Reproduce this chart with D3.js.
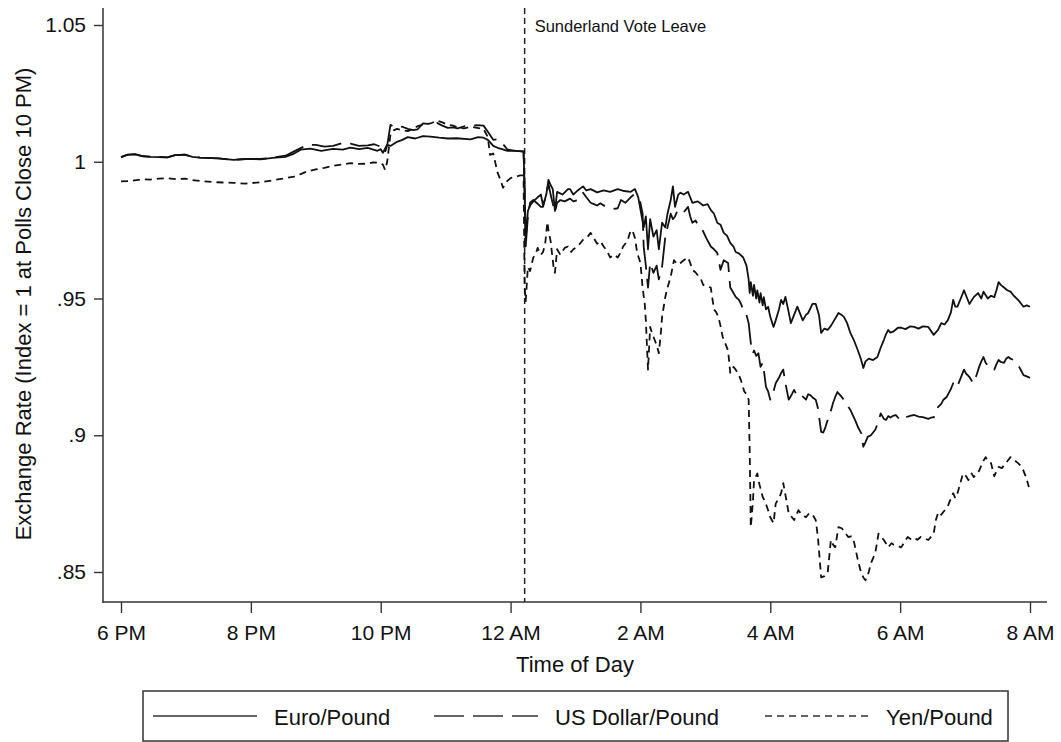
<!DOCTYPE html>
<html>
<head>
<meta charset="utf-8">
<script src="https://cdn.jsdelivr.net/npm/d3@7"></script>
<style>
  body { margin: 0; background: #fff; }
  svg { display: block; font-family: "Liberation Sans", Arial, sans-serif; }
</style>
</head>
<body>
<div id="chart"></div>
<script>
// minutes after 6 PM, index value (1 = polls close 10 PM)
const euroPound = [
  [0,1.0017],[6,1.0026],[13,1.0028],[20,1.0020],[27,1.0018],[43,1.0016],[50,1.0024],[59,1.0026],[66,1.0018],
  [73,1.0015],[90,1.0012],[104,1.0007],[115,1.0010],[129,1.0009],[140,1.0014],[152,1.0018],[160,1.0030],
  [166,1.0044],[175,1.0048],[185,1.0040],[196,1.0047],[205,1.0044],[212,1.0052],[220,1.0046],[228,1.0051],
  [237,1.0040],[240,1.0046],[242,1.0033],[246,1.0062],[249,1.0058],[255,1.0073],[260,1.0080],[265,1.0090],
  [272,1.0085],[279,1.0094],[286,1.0092],[294,1.0088],[302,1.0085],[310,1.0086],[323,1.0082],[330,1.0090],
  [335,1.0088],[339,1.0080],[341,1.0072],[344,1.0058],[348,1.0051],[352,1.0046],[357,1.0040],[365,1.0040],
  [372,1.0038],[373,0.9900],[374,0.9715],[376,0.9820],[378,0.9840],[381,0.9855],[385,0.9870],[388,0.9880],
  [390,0.9840],[393,0.9880],[395,0.9934],[397,0.9915],[399,0.9900],[401,0.9820],[403,0.9890],[408,0.9880],
  [413,0.9900],[415,0.9900],[418,0.9880],[422,0.9895],[427,0.9910],[430,0.9895],[434,0.9900],[440,0.9888],
  [446,0.9895],[452,0.9890],[459,0.9900],[465,0.9893],[471,0.9890],[475,0.9900],[478,0.9870],[483,0.9760],
  [485,0.9800],[487,0.9680],[489,0.9790],[492,0.9726],[495,0.9750],[497,0.9680],[500,0.9777],[503,0.9760],
  [505,0.9810],[508,0.9860],[510,0.9910],[512,0.9835],[515,0.9880],[517,0.9887],[520,0.9880],[524,0.9890],
  [528,0.9850],[533,0.9855],[538,0.9840],[542,0.9845],[545,0.9824],[548,0.9810],[551,0.9777],[554,0.9770],
  [557,0.9740],[560,0.9730],[563,0.9703],[566,0.9690],[568,0.9670],[571,0.9665],[575,0.9650],[578,0.9620],
  [580,0.9570],[581,0.9520],[582,0.9560],[584,0.9510],[585,0.9550],[587,0.9500],[588,0.9530],[590,0.9485],
  [591,0.9520],[593,0.9475],[594,0.9505],[596,0.9460],[598,0.9470],[600,0.9433],[603,0.9396],[605,0.9420],
  [608,0.9460],[610,0.9495],[612,0.9480],[614,0.9506],[617,0.9450],[619,0.9410],[622,0.9440],[625,0.9470],
  [628,0.9440],[630,0.9420],[633,0.9440],[635,0.9447],[639,0.9480],[642,0.9480],[645,0.9440],[647,0.9374],
  [650,0.9390],[653,0.9385],[656,0.9400],[659,0.9420],[663,0.9447],[666,0.9440],[668,0.9433],[671,0.9410],
  [674,0.9374],[677,0.9350],[681,0.9310],[684,0.9275],[686,0.9246],[688,0.9270],[691,0.9280],[695,0.9275],
  [699,0.9286],[702,0.9320],[705,0.9349],[707,0.9370],[709,0.9385],[711,0.9375],[714,0.9380],[718,0.9393],
  [721,0.9393],[725,0.9388],[729,0.9398],[733,0.9396],[737,0.9390],[741,0.9398],[746,0.9396],[751,0.9367],
  [755,0.9385],[758,0.9410],[761,0.9405],[764,0.9420],[767,0.9450],[769,0.9495],[771,0.9470],[773,0.9470],
  [776,0.9500],[779,0.9530],[782,0.9500],[784,0.9480],[788,0.9505],[792,0.9520],[795,0.9500],[797,0.9525],
  [801,0.9500],[804,0.9510],[807,0.9505],[809,0.9530],[811,0.9560],[813,0.9550],[816,0.9540],[819,0.9530],
  [822,0.9525],[825,0.9510],[829,0.9495],[832,0.9480],[834,0.9470],[837,0.9475],[840,0.9470]
];

const usDollarPound = [
  [0,1.0017],[6,1.0025],[13,1.0027],[20,1.0021],[27,1.0019],[43,1.0016],[50,1.0024],[59,1.0026],[66,1.0018],
  [73,1.0015],[90,1.0012],[104,1.0007],[115,1.0010],[129,1.0010],[140,1.0015],[152,1.0022],[160,1.0038],
  [166,1.0050],[173,1.0062],[180,1.0062],[188,1.0055],[196,1.0058],[204,1.0068],[212,1.0066],[220,1.0058],
  [228,1.0060],[234,1.0064],[240,1.0055],[242,1.0038],[244,1.0035],[246,1.0060],[249,1.0135],[252,1.0128],
  [255,1.0125],[260,1.0128],[265,1.0120],[270,1.0116],[274,1.0118],[279,1.0140],[285,1.0138],[292,1.0142],
  [297,1.0132],[302,1.0124],[307,1.0126],[311,1.0122],[318,1.0130],[323,1.0130],[329,1.0134],[335,1.0132],
  [339,1.0110],[344,1.0080],[348,1.0082],[351,1.0070],[354,1.0060],[357,1.0045],[365,1.0040],[372,1.0037],
  [373,0.9880],[374,0.9690],[376,0.9800],[378,0.9850],[381,0.9860],[384,0.9850],[388,0.9835],[390,0.9835],
  [393,0.9880],[395,0.9920],[397,0.9880],[400,0.9830],[401,0.9815],[403,0.9850],[406,0.9860],[410,0.9855],
  [415,0.9865],[418,0.9855],[422,0.9860],[425,0.9875],[427,0.9887],[430,0.9870],[434,0.9850],[437,0.9845],
  [440,0.9840],[443,0.9848],[446,0.9840],[449,0.9838],[452,0.9835],[456,0.9828],[459,0.9830],[462,0.9860],
  [466,0.9850],[471,0.9870],[474,0.9880],[477,0.9870],[480,0.9850],[482,0.9810],[483,0.9690],[485,0.9620],
  [487,0.9540],[489,0.9630],[492,0.9594],[495,0.9620],[497,0.9570],[500,0.9616],[503,0.9726],[505,0.9760],
  [508,0.9810],[510,0.9790],[512,0.9800],[514,0.9820],[517,0.9810],[520,0.9815],[524,0.9835],[526,0.9800],
  [528,0.9777],[531,0.9785],[533,0.9770],[536,0.9760],[538,0.9745],[541,0.9720],[545,0.9690],[548,0.9680],
  [551,0.9667],[554,0.9605],[557,0.9640],[561,0.9630],[563,0.9540],[566,0.9520],[568,0.9506],[571,0.9495],
  [573,0.9480],[576,0.9447],[578,0.9440],[580,0.9410],[582,0.9337],[584,0.9300],[585,0.9310],[587,0.9290],
  [589,0.9300],[591,0.9250],[593,0.9265],[594,0.9240],[596,0.9177],[598,0.9160],[600,0.9130],[603,0.9160],
  [605,0.9190],[608,0.9210],[610,0.9228],[612,0.9240],[614,0.9190],[617,0.9130],[620,0.9150],[622,0.9166],
  [624,0.9150],[626,0.9140],[629,0.9145],[633,0.9130],[635,0.9150],[637,0.9147],[640,0.9135],[642,0.9130],
  [644,0.9100],[647,0.9012],[649,0.9010],[651,0.9030],[653,0.9056],[656,0.9090],[658,0.9118],[660,0.9140],
  [662,0.9158],[665,0.9145],[668,0.9130],[671,0.9110],[674,0.9093],[677,0.9067],[679,0.9050],[681,0.9030],
  [684,0.9008],[686,0.8958],[688,0.8975],[690,0.8994],[693,0.9000],[695,0.9010],[697,0.9020],[700,0.9050],
  [702,0.9080],[705,0.9060],[707,0.9056],[709,0.9070],[711,0.9065],[714,0.9072],[716,0.9074],[719,0.9060],
  [721,0.9056],[723,0.9065],[727,0.9068],[730,0.9072],[733,0.9074],[737,0.9068],[741,0.9066],[746,0.9060],
  [749,0.9065],[751,0.9065],[753,0.9080],[755,0.9103],[758,0.9115],[760,0.9130],[763,0.9140],[765,0.9155],
  [767,0.9170],[769,0.9190],[771,0.9175],[773,0.9180],[776,0.9210],[779,0.9240],[781,0.9225],[784,0.9213],
  [786,0.9200],[788,0.9190],[791,0.9225],[793,0.9250],[795,0.9270],[797,0.9286],[799,0.9265],[802,0.9250],
  [804,0.9240],[807,0.9240],[809,0.9260],[811,0.9275],[813,0.9268],[816,0.9265],[818,0.9280],[820,0.9286],
  [822,0.9280],[825,0.9275],[828,0.9262],[830,0.9250],[832,0.9235],[834,0.9220],[837,0.9215],[840,0.9210]
];

const yenPound = [
  [0,0.9928],[10,0.9930],[20,0.9936],[27,0.9935],[35,0.9938],[43,0.9940],[51,0.9936],[59,0.9938],[66,0.9933],
  [73,0.9930],[88,0.9925],[104,0.9923],[115,0.9920],[129,0.9925],[140,0.9932],[152,0.9940],[160,0.9946],
  [166,0.9955],[172,0.9965],[180,0.9972],[188,0.9978],[196,0.9985],[204,0.9990],[212,0.9995],[220,0.9992],
  [228,0.9993],[233,0.9998],[237,0.9997],[240,0.9994],[242,0.9990],[244,0.9970],[246,1.0000],[249,1.0100],
  [252,1.0115],[255,1.0120],[260,1.0116],[265,1.0112],[270,1.0120],[274,1.0130],[280,1.0136],[286,1.0140],
  [292,1.0150],[297,1.0144],[302,1.0135],[307,1.0132],[311,1.0125],[317,1.0122],[323,1.0128],[329,1.0124],
  [335,1.0120],[339,1.0090],[341,1.0025],[344,1.0030],[348,0.9960],[351,0.9930],[353,0.9905],[355,0.9920],
  [357,0.9930],[360,0.9940],[364,0.9945],[369,0.9950],[372,0.9950],[373,0.9540],[374,0.9490],[376,0.9615],
  [378,0.9600],[381,0.9650],[383,0.9660],[385,0.9685],[388,0.9660],[390,0.9670],[392,0.9700],[394,0.9780],
  [395,0.9750],[397,0.9710],[399,0.9640],[400,0.9605],[401,0.9594],[403,0.9680],[406,0.9660],[410,0.9685],
  [413,0.9690],[416,0.9670],[418,0.9680],[422,0.9690],[427,0.9715],[431,0.9725],[434,0.9740],[437,0.9720],
  [440,0.9700],[443,0.9710],[446,0.9690],[449,0.9675],[452,0.9650],[456,0.9660],[459,0.9650],[462,0.9670],
  [464,0.9690],[468,0.9710],[471,0.9750],[473,0.9745],[475,0.9720],[477,0.9667],[480,0.9630],[482,0.9540],
  [484,0.9480],[485,0.9420],[487,0.9240],[489,0.9396],[491,0.9370],[492,0.9360],[495,0.9330],[497,0.9300],
  [499,0.9380],[500,0.9433],[503,0.9506],[505,0.9540],[508,0.9580],[510,0.9620],[511,0.9640],[514,0.9625],
  [517,0.9630],[520,0.9640],[524,0.9650],[526,0.9630],[528,0.9605],[531,0.9595],[534,0.9580],[536,0.9570],
  [538,0.9550],[541,0.9545],[545,0.9540],[548,0.9460],[550,0.9450],[552,0.9433],[554,0.9400],[556,0.9360],
  [558,0.9340],[561,0.9310],[563,0.9228],[566,0.9250],[568,0.9240],[571,0.9220],[573,0.9200],[576,0.9160],
  [578,0.9150],[580,0.9130],[581,0.8934],[582,0.8664],[584,0.8760],[585,0.8836],[588,0.8860],[590,0.8820],
  [593,0.8774],[595,0.8760],[598,0.8726],[600,0.8700],[603,0.8679],[605,0.8750],[608,0.8770],[610,0.8788],
  [612,0.8825],[615,0.8760],[617,0.8715],[620,0.8700],[622,0.8690],[626,0.8726],[629,0.8710],[633,0.8700],
  [636,0.8715],[639,0.8710],[642,0.8690],[644,0.8628],[647,0.8480],[650,0.8485],[653,0.8496],[656,0.8617],
  [658,0.8600],[660,0.8590],[663,0.8664],[666,0.8660],[668,0.8650],[672,0.8628],[675,0.8630],[677,0.8617],
  [681,0.8543],[684,0.8496],[686,0.8480],[688,0.8470],[691,0.8500],[693,0.8532],[697,0.8569],[700,0.8640],
  [702,0.8630],[705,0.8617],[709,0.8590],[712,0.8605],[714,0.8600],[718,0.8595],[721,0.8590],[724,0.8610],
  [727,0.8628],[730,0.8620],[733,0.8625],[736,0.8618],[739,0.8628],[743,0.8622],[746,0.8617],[751,0.8640],
  [753,0.8690],[755,0.8715],[757,0.8705],[759,0.8715],[762,0.8730],[764,0.8740],[767,0.8770],[769,0.8788],
  [771,0.8770],[773,0.8788],[776,0.8830],[778,0.8860],[781,0.8850],[783,0.8836],[786,0.8860],[788,0.8847],
  [791,0.8860],[793,0.8870],[796,0.8900],[799,0.8920],[801,0.8905],[804,0.8898],[807,0.8850],[809,0.8870],
  [811,0.8884],[814,0.8880],[816,0.8890],[819,0.8905],[822,0.8920],[825,0.8910],[829,0.8898],[831,0.8890],
  [833,0.8880],[836,0.8850],[839,0.8811]
];

const xTicks = [0, 120, 240, 360, 480, 600, 720, 840];
const xTickLabels = ["6 PM", "8 PM", "10 PM", "12 AM", "2 AM", "4 AM", "6 AM", "8 AM"];
const yTicks = [0.85, 0.9, 0.95, 1, 1.05];
const yTickLabels = [".85", ".9", ".95", "1", "1.05"];
const seriesNames = ["Euro/Pound", "US Dollar/Pound", "Yen/Pound"];
const voteMinute = 373;
const voteLabel = "Sunderland Vote Leave";

const W = 1061, H = 742;
const axisX = 103, axisY = 602;   // where the frame lines sit
const dashes = ["none", "30,9", "7,5"];

const svg = d3.select("#chart").append("svg")
    .attr("width", W)
    .attr("height", H);

const x = d3.scaleLinear().domain([0, 840]).range([121, 1030]);
const y = d3.scaleLinear().domain([0.85, 1.05]).range([572, 25]);

// axes
const yAxis = svg.append("g")
    .attr("transform", `translate(${axisX},0)`)
    .call(d3.axisLeft(y).tickValues(yTicks)
        .tickFormat((d, i) => yTickLabels[i])
        .tickSize(9).tickPadding(8).tickSizeOuter(0));
yAxis.select(".domain").remove();
yAxis.selectAll("line").attr("stroke", "#333").attr("stroke-width", 1.4);
yAxis.selectAll("text").attr("font-size", 21).attr("fill", "#111")
    .attr("font-family", "'Liberation Sans', Arial, sans-serif");

const xAxis = svg.append("g")
    .attr("transform", `translate(0,${axisY})`)
    .call(d3.axisBottom(x).tickValues(xTicks)
        .tickFormat((d, i) => xTickLabels[i])
        .tickSize(11).tickPadding(12).tickSizeOuter(0));
xAxis.select(".domain").remove();
xAxis.selectAll("line").attr("stroke", "#333").attr("stroke-width", 1.4);
xAxis.selectAll("text").attr("font-size", 21).attr("fill", "#111")
    .attr("font-family", "'Liberation Sans', Arial, sans-serif");

svg.append("line")
    .attr("x1", axisX).attr("x2", axisX)
    .attr("y1", 8).attr("y2", axisY + 0.7)
    .attr("stroke", "#333").attr("stroke-width", 1.5);
svg.append("line")
    .attr("x1", axisX - 0.7).attr("x2", 1047)
    .attr("y1", axisY).attr("y2", axisY)
    .attr("stroke", "#333").attr("stroke-width", 1.5);

// axis titles
svg.append("text")
    .attr("x", 575).attr("y", 672)
    .attr("text-anchor", "middle")
    .attr("font-size", 22).attr("fill", "#111")
    .text("Time of Day");

svg.append("text")
    .attr("transform", "translate(31,304) rotate(-90)")
    .attr("text-anchor", "middle")
    .attr("font-size", 22).attr("fill", "#111")
    .text("Exchange Rate (Index = 1 at Polls Close 10 PM)");

// vote marker
svg.append("line")
    .attr("x1", x(voteMinute)).attr("x2", x(voteMinute))
    .attr("y1", 8).attr("y2", axisY)
    .attr("stroke", "#222").attr("stroke-width", 1.5)
    .attr("stroke-dasharray", "6,4");
svg.append("text")
    .attr("x", x(voteMinute) + 10).attr("y", 32)
    .attr("font-size", 16.5).attr("fill", "#111")
    .text(voteLabel);

// series
const line = d3.line().x(d => x(d[0])).y(d => y(d[1]));
[euroPound, usDollarPound, yenPound].forEach((data, i) => {
    svg.append("path")
        .datum(data)
        .attr("fill", "none")
        .attr("stroke", "#111")
        .attr("stroke-width", 1.8)
        .attr("stroke-linejoin", "round")
        .attr("stroke-dasharray", dashes[i])
        .attr("d", line);
});

// legend
svg.append("rect")
    .attr("x", 143).attr("y", 691)
    .attr("width", 865).attr("height", 50)
    .attr("fill", "#fff").attr("stroke", "#333").attr("stroke-width", 1.5);

const legendX = [153, 434, 765];
seriesNames.forEach((name, i) => {
    svg.append("line")
        .attr("x1", legendX[i]).attr("x2", legendX[i] + 104)
        .attr("y1", 716).attr("y2", 716)
        .attr("stroke", "#333").attr("stroke-width", 1.6)
        .attr("stroke-dasharray", dashes[i]);
    svg.append("text")
        .attr("x", legendX[i] + 121).attr("y", 725)
        .attr("font-size", 22).attr("fill", "#111")
        .text(name);
});
</script>
</body>
</html>
